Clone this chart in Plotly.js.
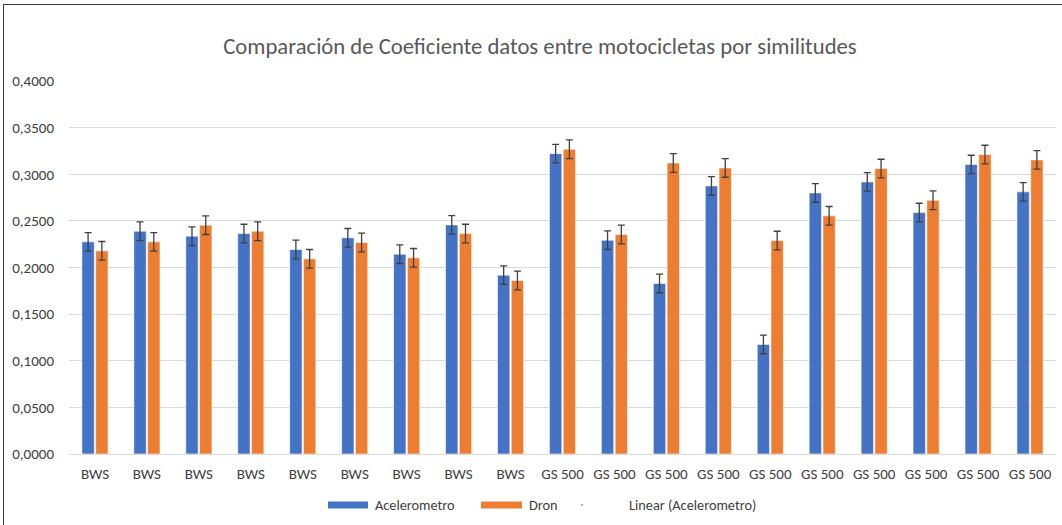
<!DOCTYPE html>
<html>
<head>
<meta charset="utf-8">
<script src="https://cdn.plot.ly/plotly-3.0.1.min.js"></script>
<style>
  html, body { margin: 0; padding: 0; background: #fff; }
  #wrap { position: relative; width: 1062px; height: 525px; overflow: hidden; }
  #chart { position: absolute; left: 0; top: 0; width: 1062px; height: 525px; }
  #frame { position: absolute; left: 3px; top: 4px; width: 1070px; height: 530px;
           border-left: 1px solid #3a3a3a; border-top: 1px solid #3a3a3a; pointer-events: none; }
</style>
</head>
<body>
<div id="wrap">
  <div id="chart"></div>
  <div id="frame"></div>
</div>
<script>
// ---- data ----
const categories = ["BWS","BWS","BWS","BWS","BWS","BWS","BWS","BWS","BWS",
                    "GS 500","GS 500","GS 500","GS 500","GS 500","GS 500","GS 500","GS 500","GS 500","GS 500"];
const acelerometro = [0.2275, 0.2389, 0.2336, 0.2364, 0.2193, 0.2318, 0.2143, 0.2457, 0.1918,
                      0.3221, 0.2293, 0.1829, 0.2875, 0.1175, 0.2800, 0.2918, 0.2589, 0.3104, 0.2811];
const dron = [0.2179, 0.2275, 0.2454, 0.2389, 0.2093, 0.2268, 0.2104, 0.2364, 0.1861,
              0.3268, 0.2354, 0.3121, 0.3068, 0.2289, 0.2554, 0.3061, 0.2721, 0.3211, 0.3154];
const errorValue = 0.01;
const seriesNames = ["Acelerometro", "Dron", "Linear (Acelerometro)"];
const yTickVals = [0, 0.05, 0.1, 0.15, 0.2, 0.25, 0.3, 0.35, 0.4];
const titleText = "Comparación de Coeficiente datos entre motocicletas por similitudes";

const colors = ["#4472C4", "#ED7D31", "#7f7f7f"];
const positions = categories.map((c, i) => i);

const W = 1062, H = 525;
const M = { l: 69, r: 6, t: 81, b: 71 };
const plotW = W - M.l - M.r, plotH = H - M.t - M.b;
const px = x => (x - M.l) / plotW;
const py = y => (H - M.b - y) / plotH;

const fontFam = "Carlito, 'Liberation Sans Narrow', 'Open Sans', 'Liberation Sans', sans-serif";

const errStyle = { type: 'constant', value: errorValue, visible: true,
                   color: '#404040', thickness: 1.3, width: 3.5 };

const traces = [
  { type: 'bar', x: positions, y: acelerometro, name: seriesNames[0],
    marker: { color: colors[0], line: { color: '#ffffff', width: 0.6 } },
    error_y: errStyle, hoverinfo: 'y' },
  { type: 'bar', x: positions, y: dron, name: seriesNames[1],
    marker: { color: colors[1], line: { color: '#ffffff', width: 0.6 } },
    error_y: errStyle, hoverinfo: 'y' }
];

// custom legend (Excel style: wide swatches)
const legendY = 505;
const legendItems = [
  { sw: [328, 368], tx: 373, name: seriesNames[0], color: colors[0], kind: 'rect' },
  { sw: [481, 522], tx: 527, name: seriesNames[1], color: colors[1], kind: 'rect' },
  { sw: [581, 583], tx: 627, name: seriesNames[2], color: colors[2], kind: 'dot' }
];
const shapes = [], annotations = [];
legendItems.forEach(it => {
  if (it.kind === 'rect') {
    shapes.push({ type: 'rect', xref: 'paper', yref: 'paper',
      x0: px(it.sw[0]), x1: px(it.sw[1]), y0: py(legendY + 3.5), y1: py(legendY - 3.5),
      fillcolor: it.color, line: { width: 0 } });
  } else {
    shapes.push({ type: 'rect', xref: 'paper', yref: 'paper',
      x0: px(it.sw[0]), x1: px(it.sw[1]), y0: py(legendY + 1), y1: py(legendY - 1),
      fillcolor: '#9db3d9', line: { width: 0 } });
  }
  annotations.push({ xref: 'paper', yref: 'paper', x: px(it.tx), y: py(legendY),
    xanchor: 'left', yanchor: 'middle', showarrow: false, text: it.name,
    font: { family: fontFam, size: 14.3, color: '#404040' } });
});

const layout = {
  width: W, height: H,
  margin: M,
  paper_bgcolor: '#ffffff', plot_bgcolor: '#ffffff',
  separators: ',.',
  showlegend: false,
  barmode: 'group', bargap: 0.47, bargroupgap: 0.1,
  title: { text: titleText, x: (540 - M.l) / plotW, xref: 'paper', y: 1 - 46 / H, yref: 'container',
           xanchor: 'center', yanchor: 'middle',
           font: { family: fontFam, size: 22.7, color: '#595959' } },
  xaxis: { range: [-0.5, categories.length - 0.5], tickmode: 'array',
           tickvals: positions, ticktext: categories, showgrid: false,
           zeroline: false, showline: true, linecolor: '#d9d9d9', linewidth: 1,
           ticks: '', ticklen: 0, tickangle: 0, ticklabelstandoff: 6,
           tickfont: { family: fontFam, size: 15, color: '#404040' } },
  yaxis: { range: [0, 0.4], tickmode: 'array', tickvals: yTickVals,
           tickformat: '.4f', showgrid: true, gridcolor: '#d9d9d9', gridwidth: 1,
           zeroline: false, showline: false, ticks: '', ticklabelstandoff: 14,
           tickfont: { family: fontFam, size: 15, color: '#404040' } },
  shapes: shapes, annotations: annotations
};

Plotly.newPlot('chart', traces, layout, { displayModeBar: false, staticPlot: true });
</script>
</body>
</html>
